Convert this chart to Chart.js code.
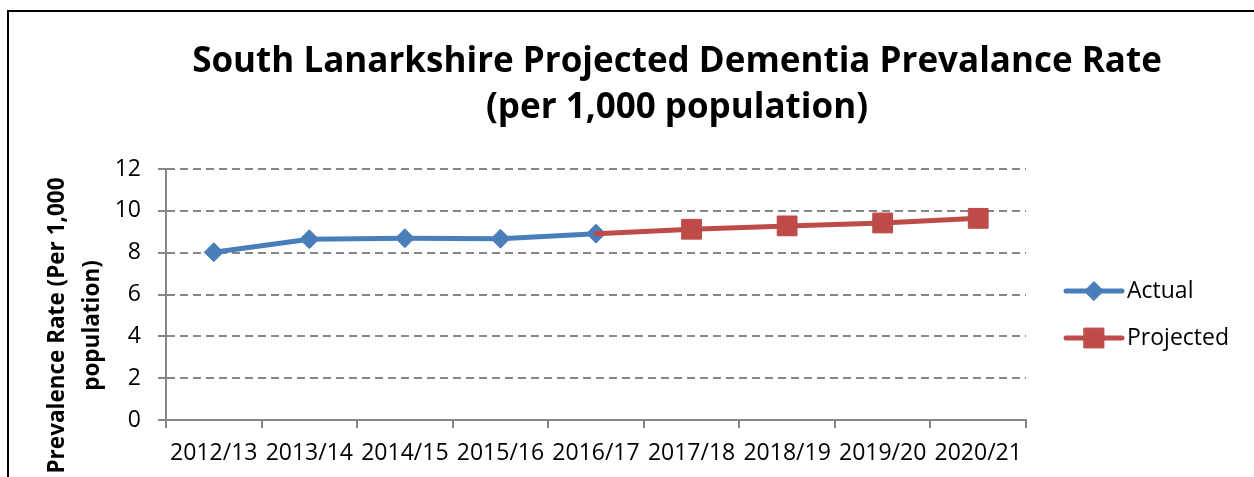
<!DOCTYPE html>
<html>
<head>
<meta charset="utf-8">
<title>South Lanarkshire Projected Dementia Prevalance Rate</title>
<script src="https://cdn.jsdelivr.net/npm/chart.js@4"></script>
<style>
  html, body { margin: 0; padding: 0; background: #fff; }
  canvas { display: block; }
</style>
</head>
<body>
<canvas id="rateChart" width="1254" height="477"></canvas>
<script>
// data
const categories = ['2012/13', '2013/14', '2014/15', '2015/16', '2016/17', '2017/18', '2018/19', '2019/20', '2020/21'];
const actualValues = [8.02, 8.64, 8.69, 8.67, 8.91, null, null, null, null];
const projectedValues = [null, null, null, null, 8.91, 9.12, 9.28, 9.42, 9.64];
const yTicks = [0, 2, 4, 6, 8, 10, 12];
const seriesNames = ['Actual', 'Projected'];
const chartTitle = ['South Lanarkshire Projected Dementia Prevalance Rate', '(per 1,000 population)'];
const yTitle = ['Prevalence Rate (Per 1,000', 'population)'];

const blue = '#4A7EBB';
const red = '#BE4B48';
const grey = '#868686';
const fontFamily = '"Open Sans", "Liberation Sans", sans-serif';

// layout of the plot box in the reference picture
const canvas = document.getElementById('rateChart');
const plotLeft = 166, plotRight = 1026, xAxisHeight = 57;
const legendPad = 24, legendBox = 65.5, legendFont = 23;

const mctx = document.createElement('canvas').getContext('2d');
mctx.font = legendFont + 'px ' + fontFamily;
const legendTextW = Math.max(...seriesNames.map(s => mctx.measureText(s).width));
const padRight = canvas.width - plotRight - (legendPad + legendBox + legendFont / 2 + legendTextW + 10);
const padLeft = 100 + padRight;

const firstProjected = projectedValues.findIndex(v => v !== null);

// white page, black frame of the pasted chart
const frame = {
    id: 'frame',
    beforeDraw: (chart) => {
        const ctx = chart.ctx;
        ctx.save();
        ctx.fillStyle = 'white';
        ctx.fillRect(0, 0, chart.width, chart.height);
        ctx.strokeStyle = '#000';
        ctx.lineWidth = 2;
        ctx.beginPath();
        ctx.moveTo(8, chart.height);
        ctx.lineTo(8, 11);
        ctx.lineTo(chart.width, 11);
        ctx.stroke();
        ctx.restore();
    }
};

// two-line axis title, sitting a bit low like the original
const axisTitle = {
    id: 'axisTitle',
    afterDraw: (chart) => {
        const ctx = chart.ctx;
        const area = chart.chartArea;
        ctx.save();
        ctx.translate(area.left - 108, (area.top + area.bottom) / 2 + 31);
        ctx.rotate(-Math.PI / 2);
        ctx.font = 'bold 22.5px ' + fontFamily;
        ctx.fillStyle = '#000';
        ctx.textAlign = 'center';
        ctx.textBaseline = 'middle';
        yTitle.forEach((line, i) => ctx.fillText(line, 0, i * 35));
        ctx.restore();
    }
};

// line + marker samples in the legend
const legendMarkers = {
    id: 'legendMarkers',
    afterDraw: (chart) => {
        const ctx = chart.ctx;
        const legend = chart.legend;
        legend.legendHitBoxes.forEach((hb, i) => {
            const ds = chart.data.datasets[legend.legendItems[i].datasetIndex];
            const x1 = hb.left + legendBox + legendFont / 2 - 5;
            const x0 = x1 - 56;
            const y = hb.top + hb.height / 2;
            ctx.save();
            ctx.strokeStyle = ds.borderColor;
            ctx.fillStyle = ds.borderColor;
            ctx.lineWidth = 5;
            ctx.lineCap = 'round';
            ctx.beginPath();
            ctx.moveTo(x0, y);
            ctx.lineTo(x1, y);
            ctx.stroke();
            ctx.lineWidth = 1;
            Chart.helpers.drawPoint(ctx, {pointStyle: ds.pointStyle, radius: ds.legendRadius, rotation: 0, borderWidth: 1}, (x0 + x1) / 2, y);
            ctx.restore();
        });
    }
};

const ctx = canvas.getContext('2d');
const rateChart = new Chart(ctx, {
    type: 'line',
    data: {
        labels: categories,
        datasets: [{
            label: seriesNames[0],
            data: actualValues,
            borderColor: blue,
            backgroundColor: blue,
            borderWidth: 5,
            borderCapStyle: 'round',
            borderJoinStyle: 'round',
            pointStyle: 'rectRot',
            pointRadius: 9.5,
            legendRadius: 9.5,
            pointBorderWidth: 1,
            pointBackgroundColor: blue,
            pointBorderColor: blue,
            tension: 0,
            order: 1
        },
        {
            label: seriesNames[1],
            data: projectedValues,
            borderColor: red,
            backgroundColor: red,
            borderWidth: 5,
            borderCapStyle: 'round',
            borderJoinStyle: 'round',
            pointStyle: 'rect',
            pointRadius: (c) => c.dataIndex === firstProjected ? 0 : 14,
            legendRadius: 14,
            pointBorderWidth: 1,
            pointBackgroundColor: red,
            pointBorderColor: red,
            tension: 0,
            order: 0
        }]
    },
    options: {
        responsive: false,
        animation: false,
        layout: {
            padding: { top: 12, left: padLeft, right: padRight, bottom: 0 }
        },
        scales: {
            x: {
                offset: true,
                ticks: {
                    color: '#000',
                    font: { family: fontFamily, size: 23 },
                    padding: 12,
                    maxRotation: 0,
                    autoSkip: false
                },
                grid: {
                    offset: true,
                    drawOnChartArea: false,
                    drawTicks: true,
                    tickLength: 8,
                    color: grey,
                    lineWidth: 2
                },
                border: { color: grey, width: 2 },
                afterFit: (scale) => { scale.height = xAxisHeight; }
            },
            y: {
                min: yTicks[0],
                max: yTicks[yTicks.length - 1],
                afterBuildTicks: (scale) => { scale.ticks = yTicks.map(v => ({ value: v })); },
                ticks: {
                    color: '#000',
                    font: { family: fontFamily, size: 23 },
                    padding: 17
                },
                grid: {
                    color: grey,
                    lineWidth: 2,
                    tickLength: 8,
                    tickColor: grey,
                    tickWidth: 2
                },
                border: { color: grey, width: 2, dash: [8, 5] },
                afterFit: (scale) => { scale.width = plotLeft - padLeft; }
            }
        },
        plugins: {
            title: {
                display: true,
                text: chartTitle,
                color: '#000',
                font: { family: fontFamily, size: 35, weight: 'bold', lineHeight: 46 / 35 },
                padding: { top: 27.5, bottom: 37.5 }
            },
            legend: {
                position: 'right',
                fullSize: false,
                title: {
                    display: true,
                    text: '',
                    font: { size: 10, lineHeight: 1 },
                    padding: { top: 15, bottom: 15 }
                },
                labels: {
                    color: '#000',
                    font: { family: fontFamily, size: legendFont },
                    boxWidth: legendBox,
                    padding: legendPad,
                    sort: (a, b) => a.datasetIndex - b.datasetIndex,
                    generateLabels: (chart) => Chart.defaults.plugins.legend.labels.generateLabels(chart)
                        .map(l => Object.assign(l, { fillStyle: 'rgba(0,0,0,0)', strokeStyle: 'rgba(0,0,0,0)', lineWidth: 0 }))
                }
            },
            tooltip: { enabled: false }
        }
    },
    plugins: [frame, axisTitle, legendMarkers]
});
</script>
</body>
</html>
